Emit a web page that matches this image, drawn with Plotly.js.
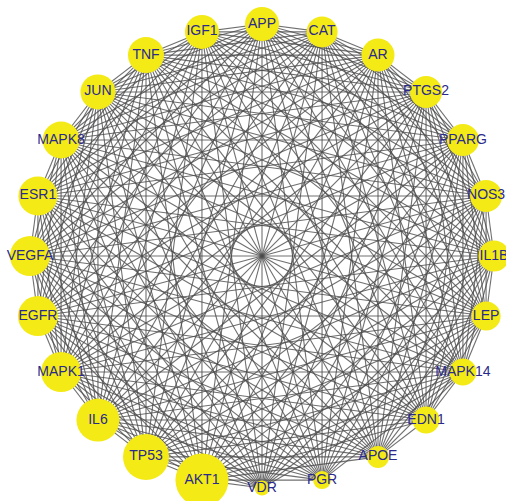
<!DOCTYPE html>
<html><head><meta charset="utf-8">
<script src="https://cdn.plot.ly/plotly-3.0.1.min.js"></script>
<style>html,body{margin:0;padding:0;background:#fff}#chart{width:506px;height:501px}</style>
</head><body><div id="chart"></div>
<script>
// Nodes clockwise starting at top
var genes = ["APP","CAT","AR","PTGS2","PPARG","NOS3","IL1B","LEP","MAPK14","EDN1","APOE","PGR",
             "VDR","AKT1","TP53","IL6","MAPK1","EGFR","VEGFA","ESR1","MAPK8","JUN","TNF","IGF1"];
// Node size (diameter, reflects degree)
var nodeSize = [34,31,33,32,32,32,31,29,27,27,22,18,15,53,46,43,40,40,40,39,37,35,36,34];
// Pairs not connected (estimated)
var missing = [["VDR","PGR"],["VDR","APOE"],["PGR","APOE"],["VDR","EDN1"],["PGR","EDN1"]];

var n = genes.length;
var xs = [], ys = [];
for (var i = 0; i < n; i++) {
  var a = Math.PI/2 - i*2*Math.PI/n;
  xs.push(Math.cos(a)); ys.push(Math.sin(a));
}
function isMissing(a,b){
  return missing.some(function(p){return (p[0]===a&&p[1]===b)||(p[0]===b&&p[1]===a);});
}
var ex = [], ey = [];
for (var i = 0; i < n; i++) for (var j = i+1; j < n; j++) {
  if (isMissing(genes[i], genes[j])) continue;
  ex.push(xs[i], xs[j], null); ey.push(ys[i], ys[j], null);
}
var R = 232, cx = 262, cy = 256, W = 506, H = 501;
var edges = {x: ex, y: ey, mode: "lines", type: "scatter", hoverinfo: "skip",
  line: {color: "rgba(75,75,75,0.8)", width: 1.1}};
var nodes = {x: xs, y: ys, mode: "markers+text", type: "scatter", text: genes,
  textposition: "middle center",
  textfont: {family: "Liberation Sans, Arial, sans-serif", size: 14, color: "#2a2a8c"},
  marker: {size: nodeSize, color: "#f3ea16", opacity: 1, line: {width: 0}}};
var layout = {
  width: W, height: H, margin: {l:0,r:0,t:0,b:0}, showlegend: false,
  paper_bgcolor: "#ffffff", plot_bgcolor: "#ffffff",
  xaxis: {range: [-cx/R, (W-cx)/R], visible: false, fixedrange: true},
  yaxis: {range: [-(H-cy)/R, cy/R], visible: false, fixedrange: true}
};
Plotly.newPlot("chart", [edges, nodes], layout, {displayModeBar: false, staticPlot: true});
</script></body></html>
